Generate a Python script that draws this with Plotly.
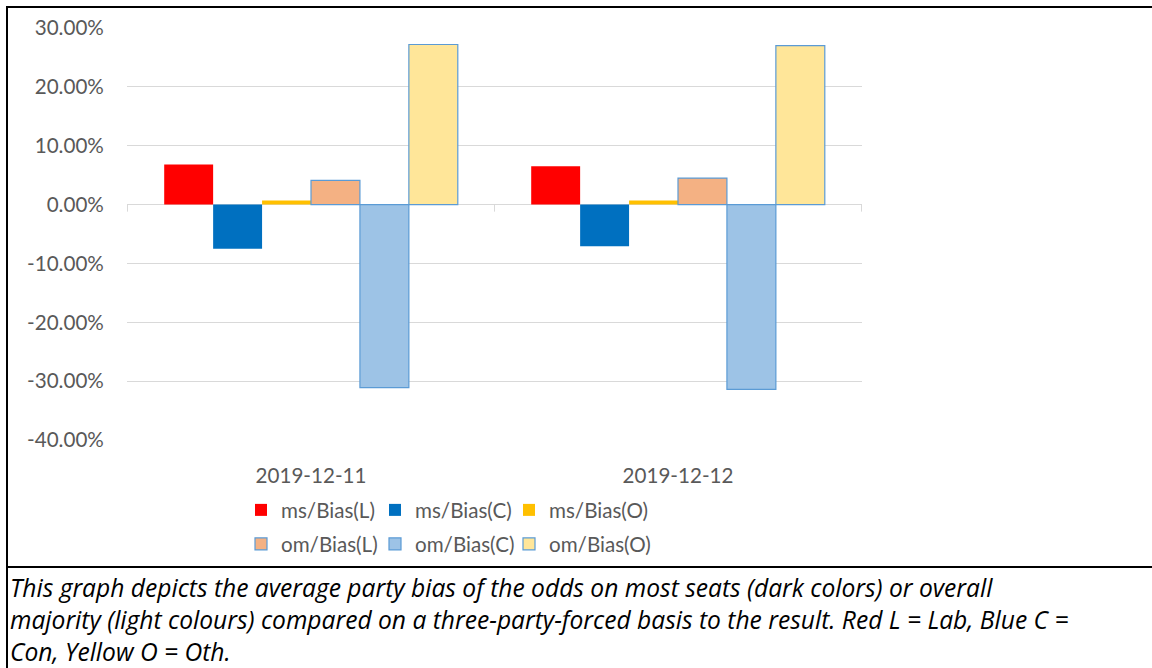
import plotly.graph_objects as go

# ---------------- data ----------------
categories = ["2019-12-11", "2019-12-12"]
ms_bias_L = [0.068, 0.065]
ms_bias_C = [-0.075, -0.071]
ms_bias_O = [0.007, 0.007]
om_bias_L = [0.041, 0.045]
om_bias_C = [-0.311, -0.314]
om_bias_O = [0.272, 0.270]

y_ticks = [0.3, 0.2, 0.1, 0.0, -0.1, -0.2, -0.3, -0.4]
y_tick_labels = [f"{v * 100:.2f}%" for v in y_ticks]

caption_lines = [
    "This graph depicts the average party bias of the odds on most seats (dark colors) or overall",
    "majority (light colours) compared on a three-party-forced basis to the result. Red L = Lab, Blue C =",
    "Con, Yellow O = Oth.",
]

# ---------------- layout helpers ----------------
W, H = 1152, 668
ML, MR, MT, MB = 127, 290, 28, 228
PW, PH = W - ML - MR, H - MT - MB


def px_x(px):
    return (px - ML) / PW


def px_y(py):
    return (H - MB - py) / PH


FONT = "Lato"
FS = 20.6
GREY = "#595959"
LIGHT_EDGE = "#5B9BD5"

series = [
    ("ms/Bias(L)", ms_bias_L, "#FF0000", 0, "legend"),
    ("ms/Bias(C)", ms_bias_C, "#0070C0", 0, "legend"),
    ("ms/Bias(O)", ms_bias_O, "#FFC000", 0, "legend"),
    ("om/Bias(L)", om_bias_L, "#F4B183", 1.2, "legend2"),
    ("om/Bias(C)", om_bias_C, "#9DC3E6", 1.2, "legend2"),
    ("om/Bias(O)", om_bias_O, "#FFE699", 1.2, "legend2"),
]

fig = go.Figure()
for name, vals, color, lw, leg in series:
    fig.add_trace(go.Bar(
        x=categories, y=vals, name=name,
        marker=dict(color=color, line=dict(color=LIGHT_EDGE, width=lw)),
        legend=leg,
    ))

# invisible spacer entries so the last legend label is not clipped
for leg in ["legend", "legend2"]:
    fig.add_trace(go.Scatter(
        x=[None], y=[None], mode="markers", name=" ", legend=leg,
        marker=dict(color="rgba(0,0,0,0)"), hoverinfo="skip",
    ))

shapes = []
# category boundary ticks at zero line
for xb in [-0.5, 0.5, 1.5]:
    shapes.append(dict(type="line", xref="x", yref="y", x0=xb, x1=xb, y0=0, y1=-0.012,
                       line=dict(color="#D9D9D9", width=1)))
# document table borders
shapes += [
    dict(type="line", xref="paper", yref="paper", x0=px_x(7), x1=px_x(7), y0=px_y(6), y1=px_y(670),
         line=dict(color="black", width=2)),
    dict(type="line", xref="paper", yref="paper", x0=px_x(6), x1=px_x(1153), y0=px_y(7), y1=px_y(7),
         line=dict(color="black", width=2)),
    dict(type="line", xref="paper", yref="paper", x0=px_x(6), x1=px_x(1153), y0=px_y(567), y1=px_y(567),
         line=dict(color="black", width=2)),
]

annotations = [dict(
    text="<br>".join(caption_lines), xref="paper", yref="paper", x=px_x(9), y=px_y(570),
    xanchor="left", yanchor="top", align="left", showarrow=False, borderpad=0,
    font=dict(family="Open Sans", size=24.6, color="black", style="italic"),
)]

legend_common = dict(
    orientation="h", xref="paper", yref="paper", xanchor="left", yanchor="middle",
    font=dict(family=FONT, size=FS, color=GREY), bgcolor="rgba(0,0,0,0)",
    entrywidth=89, entrywidthmode="pixels", traceorder="normal",
    itemclick=False, itemdoubleclick=False,
)

fig.update_layout(
    width=W, height=H,
    margin=dict(l=ML, r=MR, t=MT, b=MB, pad=0),
    paper_bgcolor="white", plot_bgcolor="white",
    barmode="group", bargap=0.2, bargroupgap=0,
    font=dict(family=FONT, size=FS, color=GREY),
    xaxis=dict(
        type="category", showgrid=False, zeroline=False, showline=False,
        ticks="outside", ticklen=17, tickcolor="rgba(0,0,0,0)",
        tickfont=dict(family=FONT, size=FS, color=GREY),
    ),
    yaxis=dict(
        range=[-0.4, 0.3], tickvals=y_ticks, ticktext=y_tick_labels,
        showgrid=True, gridcolor="#D9D9D9", gridwidth=1,
        zeroline=True, zerolinecolor="#D9D9D9", zerolinewidth=1,
        showline=False, ticks="outside", ticklen=18, tickcolor="rgba(0,0,0,0)",
        tickfont=dict(family=FONT, size=FS, color=GREY),
    ),
    legend=dict(x=px_x(241), y=px_y(510), **legend_common),
    legend2=dict(x=px_x(241), y=px_y(544), **legend_common),
    shapes=shapes,
    annotations=annotations,
)

fig.write_html("out.html")
